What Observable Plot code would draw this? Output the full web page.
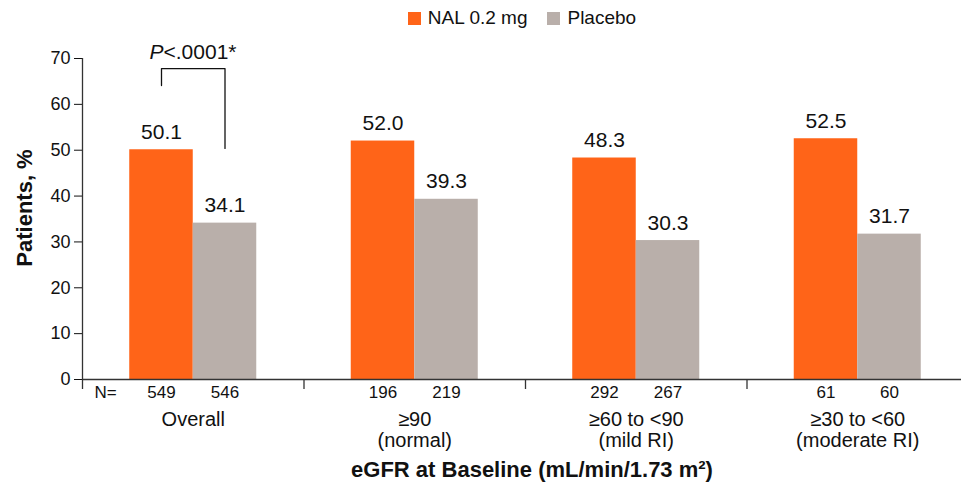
<!DOCTYPE html>
<html>
<head>
<meta charset="utf-8">
<script src="https://cdn.jsdelivr.net/npm/d3@7"></script>
<script src="https://cdn.jsdelivr.net/npm/@observablehq/plot@0.6"></script>
<style>
  body { margin: 0; background: #fff; font-family: "Liberation Sans", Arial, sans-serif; color: #111; }
  #legend { height: 36px; display: flex; align-items: center; justify-content: center; margin-left: 82px; width: 880px; font-size: 19px; }
  .item { display: flex; align-items: center; margin: 0 10px; }
  .sw { width: 13px; height: 13px; margin-right: 7px; }
</style>
</head>
<body>
<div id="legend"></div>
<div id="chart"></div>
<script>
// ---- data ----
const groups = ["Overall", "≥90\n(normal)", "≥60 to <90\n(mild RI)", "≥30 to <60\n(moderate RI)"];
const series = ["NAL 0.2 mg", "Placebo"];
const colors = ["#FF6418", "#B9AFAA"];
const nal = [50.1, 52.0, 48.3, 52.5];
const placebo = [34.1, 39.3, 30.3, 31.7];
const nNal = [549, 196, 292, 61];
const nPlacebo = [546, 219, 267, 60];
const yTicks = [0, 10, 20, 30, 40, 50, 60, 70];
const nLabel = "N=";
const pLabelItalic = "P";
const pLabelRest = "<.0001*";
const pLabelY = 70;
const bracketY = [64.1, 67.8, 67.8, 50.4];
const yTitle = "Patients, %";
const xTitle = "eGFR at Baseline (mL/min/1.73 m²)";

// ---- layout constants (style) ----
const barW = 0.2867; // bar width as fraction of group spacing

// ---- legend ----
const legend = document.getElementById("legend");
series.forEach((s, k) => {
  const it = document.createElement("div");
  it.className = "item";
  const sw = document.createElement("div");
  sw.className = "sw";
  sw.style.background = colors[k];
  const tx = document.createElement("span");
  tx.textContent = s;
  it.appendChild(sw); it.appendChild(tx);
  legend.appendChild(it);
});

// ---- tables ----
const rows = groups.flatMap((g, i) => [
  {i, series: series[0], x1: i - barW, x2: i, value: nal[i], n: nNal[i]},
  {i, series: series[1], x1: i, x2: i + barW, value: placebo[i], n: nPlacebo[i]}
]);
const boundaries = groups.map((g, i) => i - 0.5).concat([groups.length - 0.5]);
const mid = d => (d.x1 + d.x2) / 2;
const ov = rows.filter(d => d.i === 0);
const bracket = [
  {x: mid(ov[0]), y: bracketY[0]},
  {x: mid(ov[0]), y: bracketY[1]},
  {x: mid(ov[1]), y: bracketY[2]},
  {x: mid(ov[1]), y: bracketY[3]}
];

const chart = Plot.plot({
  width: 961,
  height: 454,
  marginTop: 22,
  marginBottom: 111,
  marginLeft: 82,
  marginRight: 0,
  style: {fontFamily: "Liberation Sans, Arial, sans-serif", fontSize: "18px", color: "#111", background: "white"},
  x: {domain: [-0.5, 3.5], range: [82, 968], axis: null},
  y: {domain: [0, 70], ticks: yTicks, tickSize: 8, tickPadding: 4, label: null},
  color: {domain: series, range: colors},
  marks: [
    Plot.rectY(rows, {x1: "x1", x2: "x2", y: "value", fill: "series"}),
    Plot.ruleY([0], {stroke: "#333", strokeWidth: 1.3}),
    Plot.ruleX([boundaries[0]], {y1: 0, y2: 70, stroke: "#333", strokeWidth: 1.3}),
    Plot.ruleX(boundaries, {y1: 0, y2: 0, insetBottom: -10, stroke: "#333", strokeWidth: 1.3}),
    Plot.text(rows, {x: mid, y: "value", text: d => d.value.toFixed(1), lineAnchor: "bottom", dy: -11, fontSize: 21}),
    Plot.text(rows, {x: mid, text: d => String(d.n), frameAnchor: "bottom", lineAnchor: "middle", dy: 13.5, fontSize: 17}),
    Plot.text([nLabel], {x: () => boundaries[0], text: d => d, frameAnchor: "bottom", textAnchor: "start", lineAnchor: "middle", dx: 12, dy: 13.5, fontSize: 17}),
    Plot.text(groups, {x: (d, i) => i, text: d => d, frameAnchor: "bottom", lineAnchor: "top", dy: 32, fontSize: 20, lineHeight: 1.05}),
    Plot.line(bracket, {x: "x", y: "y", stroke: "#111", strokeWidth: 1.3}),
    Plot.text([pLabelItalic], {x: () => bracket[0].x, y: () => pLabelY, text: d => d, textAnchor: "end", lineAnchor: "bottom", dx: 2, fontSize: 21, fontStyle: "italic"}),
    Plot.text([pLabelRest], {x: () => bracket[0].x, y: () => pLabelY, text: d => d, textAnchor: "start", lineAnchor: "bottom", dx: 2, fontSize: 21}),
    Plot.text([yTitle], {text: d => d, frameAnchor: "left", textAnchor: "middle", rotate: -90, dx: -58, dy: -11, fontSize: 22, fontWeight: "bold"}),
    Plot.text([xTitle], {text: d => d, frameAnchor: "bottom", lineAnchor: "middle", dx: 10, dy: 90.5, fontSize: 22, fontWeight: "bold"})
  ]
});
document.getElementById("chart").appendChild(chart);
</script>
</body>
</html>
